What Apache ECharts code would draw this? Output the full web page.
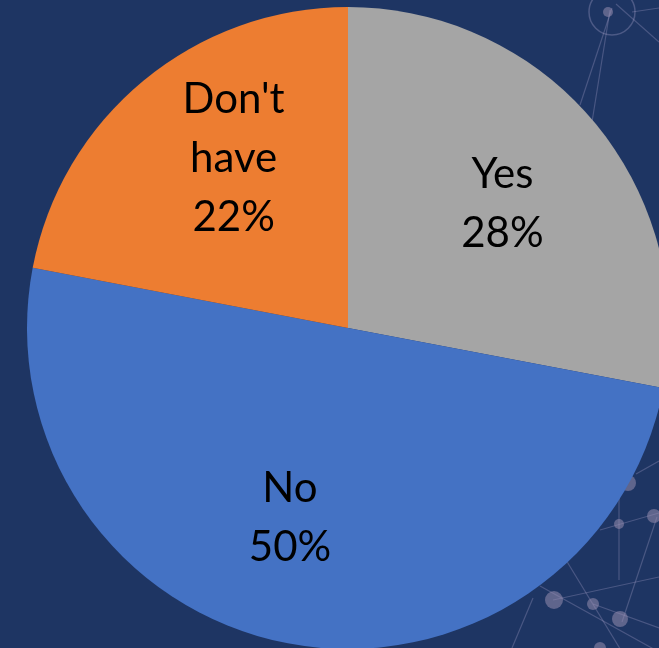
<!DOCTYPE html>
<html>
<head>
<meta charset="utf-8">
<title>Survey answers</title>
<script src="https://cdn.jsdelivr.net/npm/echarts@6/dist/echarts.min.js"></script>
<style>
  html, body { margin: 0; padding: 0; background: #1E3563; }
  #chart { width: 659px; height: 648px; }
</style>
</head>
<body>
<div id="chart"></div>
<script>
// Answer categories and their shares (percent)
const categories = ['Yes', 'No', "Don't have"];
const shares = [28, 50, 22];

// Slice fills, in category order
const sliceColors = ['#A5A5A5', '#4472C4', '#ED7D31'];
// Small nudges for the text blocks, in category order
const labelNudges = [[-2, 5], [-20, -9], [15, -13]];

const chart = echarts.init(document.getElementById('chart'), null, { renderer: 'canvas' });

const center = [348, 328];
const outerRadius = 321;

// Faint network decoration drawn behind the pie
const netLine = { stroke: 'rgba(185,175,215,0.28)', lineWidth: 1.2 };
const netNode = { fill: 'rgba(150,140,175,0.55)' };
const segments = [
  [612, 8, 580, 105], [610, 10, 592, 122], [616, 4, 659, 42], [632, 12, 659, 8],
  [636, 474, 659, 461], [600, 530, 659, 513], [619, 490, 619, 580],
  [657, 517, 622, 622], [566, 560, 622, 652], [540, 586, 659, 652],
  [533, 598, 512, 648], [553, 600, 659, 577], [593, 604, 659, 628]
];
const nodes = [
  [628, 483, 8], [619, 524, 5], [654, 516, 7], [554, 600, 9],
  [593, 604, 6], [620, 619, 8], [600, 648, 6], [608, 12, 5]
];
const decoration = [];
segments.forEach(s => decoration.push({
  type: 'line', silent: true, z: 0,
  shape: { x1: s[0], y1: s[1], x2: s[2], y2: s[3] }, style: netLine
}));
nodes.forEach(n => decoration.push({
  type: 'circle', silent: true, z: 0,
  shape: { cx: n[0], cy: n[1], r: n[2] }, style: netNode
}));
decoration.push({
  type: 'circle', silent: true, z: 0,
  shape: { cx: 612, cy: 12, r: 23 },
  style: { fill: 'none', stroke: 'rgba(185,175,215,0.3)', lineWidth: 1.5 }
});

const sliceData = categories.map((name, i) => ({
  name: name,
  value: shares[i],
  itemStyle: { color: sliceColors[i] }
}));

const labelData = categories.map((name, i) => ({
  name: name,
  value: shares[i],
  label: { offset: labelNudges[i] }
}));

chart.setOption({
  backgroundColor: '#1E3563',
  animation: false,
  graphic: decoration,
  series: [
    {
      type: 'pie',
      center: center,
      radius: [0, outerRadius],
      startAngle: 90,
      clockwise: true,
      label: { show: false },
      labelLine: { show: false },
      emphasis: { disabled: true },
      itemStyle: { borderWidth: 0 },
      data: sliceData
    },
    {
      // transparent twin pie that only carries the text, placed further out
      type: 'pie',
      center: center,
      radius: [0, 400],
      startAngle: 90,
      clockwise: true,
      silent: true,
      emphasis: { disabled: true },
      itemStyle: { color: 'rgba(0,0,0,0)', borderWidth: 0 },
      labelLine: { show: false },
      label: {
        show: true,
        position: 'inside',
        color: '#000000',
        fontFamily: 'Lato, "Liberation Sans", sans-serif',
        fontSize: 42,
        lineHeight: 59,
        align: 'center',
        formatter: p => p.name.replace(' ', '\n') + '\n' + p.value + '%'
      },
      data: labelData
    }
  ]
});
</script>
</body>
</html>
